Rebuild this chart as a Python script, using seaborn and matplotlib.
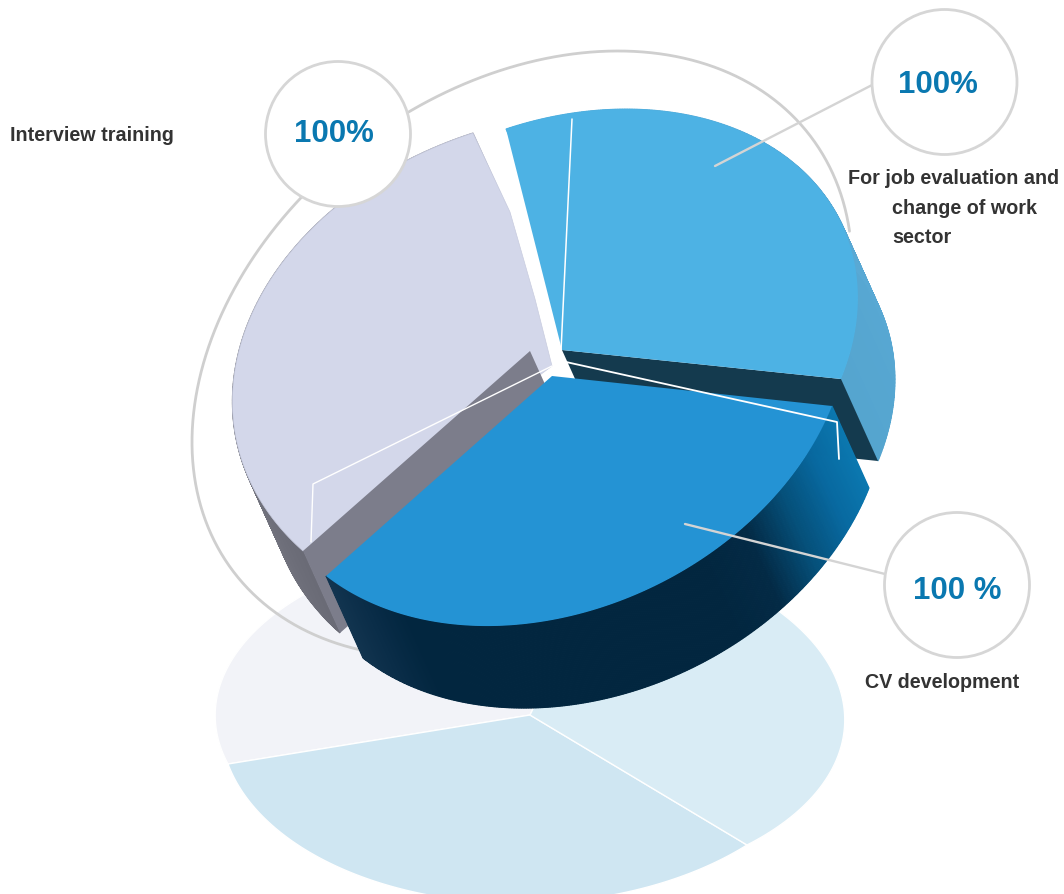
import numpy as np
import matplotlib
matplotlib.use("Agg")
import matplotlib.pyplot as plt
from matplotlib.patches import Circle, Polygon
import seaborn as sns

# Chart content
categories = ["Interview training", "For job evaluation and", "CV development"]
percentages = [100, 100, 100]
badge_texts = ["100%", "100%", "100 %"]

# Wedge geometry on the page: apex, the two projected radii, and arc fullness
lav_apex, lav_r1, lav_r2, lav_full = (552, 367), (-79, -233), (-249, 185), 0.925
sky_apex, sky_r1, sky_r2, sky_full = (562, 351), (279, 29), (-56, -221), 1.005
deep_apex, deep_r1, deep_r2, deep_full = (552, 377), (280, 30), (-226, 200), 1.0
depth = (37, 82)

shadow_apex = (530, 716)
shadow_a, shadow_b, shadow_c = (-302, 49), (217, 130), (82, -168)

# Colours
lav_face, sky_face, deep_face = "#d3d7ea", "#4db2e4", "#2493d4"
shadow_cols = ["#f2f3f8", "#cfe6f2", "#d9ecf5"]
ring_col, callout_col, badge_col, label_col = "#cfcfcf", "#d4d4d4", "#0a78b0", "#333333"

sns.set_theme(style="white")
plt.rcParams["font.family"] = ["Liberation Sans", "DejaVu Sans"]

fig, ax = plt.subplots(figsize=(10.64, 8.95), dpi=100)
fig.subplots_adjust(0, 0, 1, 1)
ax.set_xlim(0, 1064)
ax.set_ylim(895, 0)
sns.despine(ax=ax, left=True, bottom=True)
ax.set_axis_off()

sweeps = 2 * np.pi * np.array(percentages) / sum(percentages)


def arc(apex, r1, r2, sweep, fullness=1.0, n=360):
    """Projected circular arc between two radii of a tilted disc."""
    t = np.linspace(0, sweep, n)
    k = 1 + (fullness - 1) * np.sin(np.pi * t / sweep)
    s = np.sin(sweep)
    pts = (np.outer(np.sin(sweep - t), r1) + np.outer(np.sin(t), r2)) / s
    return np.array(apex) + pts * k[:, None]


def extruded_wall(curve, colours, z):
    """Side wall of a slice, painted as thin shaded strips along its arc."""
    off = np.array(depth)
    for i in range(len(curve) - 1):
        quad = [curve[i], curve[i + 1], curve[i + 1] + off, curve[i] + off]
        ax.add_patch(Polygon(quad, closed=True, fc=colours[i], ec=colours[i], lw=0.8, zorder=z))


# Mirrored slices lying under the pie
shadow_edges = [(shadow_c, shadow_a), (shadow_a, shadow_b), (shadow_b, shadow_c)]
for (ra, rb), col, sw in zip(shadow_edges, shadow_cols, sweeps):
    pts = arc(shadow_apex, ra, rb, sw, 1.02)
    ax.add_patch(Polygon(np.vstack([shadow_apex, pts]), closed=True, fc=col, ec="white", lw=1.0, zorder=1))

# Thin ring sweeping round the back of the pie
ring_t = np.radians(np.linspace(7, 243, 300))
ring_x = 522 + 330 * np.cos(ring_t)
ring_y = 355 + 303 * np.cos(ring_t + np.radians(106.9))
ax.plot(ring_x, ring_y, color=ring_col, lw=2.0, zorder=2)

# Lavender slice
lav_arc = arc(lav_apex, lav_r1, lav_r2, sweeps[0], lav_full)
extruded_wall(lav_arc, sns.blend_palette(["#9a9ba8", "#84858f", "#6a6b76"], len(lav_arc)), 3)
lav_shoulder = np.array(lav_apex) + np.array([[-17, -67], [-42, -154]])
ax.add_patch(Polygon(np.vstack([[lav_apex], lav_shoulder, lav_arc]), closed=True,
                     fc=lav_face, ec="#c8ccdf", lw=0.5, zorder=4))
lav_notch = np.array((530, 352))
lav_tip = lav_arc[-1]
ax.add_patch(Polygon([lav_notch, lav_tip, lav_tip + depth, lav_notch + depth], closed=True,
                     fc="#7c7d8b", ec="none", zorder=5))

# Light blue slice
sky_arc = arc(sky_apex, sky_r1, sky_r2, sweeps[1], sky_full)
extruded_wall(sky_arc, sns.blend_palette(["#55a5cf", "#5aaad6", "#4fb0e0"], len(sky_arc)), 6)
sky_corner = np.array(sky_apex) + sky_r1
ax.add_patch(Polygon([sky_apex, sky_corner, sky_corner + depth, np.array(sky_apex) + depth],
                     closed=True, fc="#143a4e", ec="none", zorder=7))
ax.add_patch(Polygon(np.vstack([sky_apex, sky_arc]), closed=True, fc=sky_face, ec="none", zorder=8))

# Deep blue slice in front
deep_arc = arc(deep_apex, deep_r1, deep_r2, sweeps[2], deep_full)
deep_stops = ["#0b78b0", "#0869a0", "#05507a", "#032a45"] + ["#02263f"] * 7 + ["#0a2d48", "#12344f"]
extruded_wall(deep_arc, sns.blend_palette(deep_stops, len(deep_arc)), 9)
ax.add_patch(Polygon(np.vstack([deep_apex, deep_arc]), closed=True, fc=deep_face, ec="none", zorder=10))

# Fine white leader lines across the faces
ax.plot([572, 561], [120, 352], color="white", lw=1.1, zorder=11)
ax.plot([566, 837, 839], [363, 423, 460], color="white", lw=1.3, zorder=11)
ax.plot([552, 313, 311], [367, 485, 543], color="white", lw=1.0, zorder=11)

# Callouts joining slices to their badges
ax.plot([715, 874], [167, 85], color=callout_col, lw=1.7, zorder=11)
ax.plot([685, 885], [525, 575], color=callout_col, lw=1.7, zorder=11)

# Percentage badges
badge_pos = [(338, 135), (944.5, 83), (957, 586)]
badge_txt_pos = [(334, 134), (938, 85), (957, 591)]
for (cx, cy), (tx, ty), txt in zip(badge_pos, badge_txt_pos, badge_texts):
    ax.add_patch(Circle((cx, cy), 72.5, fc="white", ec="#d6d6d6", lw=2.0, zorder=12))
    ax.text(tx, ty, txt, color=badge_col, fontsize=22.5, fontweight="bold",
            ha="center", va="center", zorder=13)

# Category labels
label_size = 14.2
ax.text(10, 135, categories[0], color=label_col, fontsize=label_size, fontweight="bold", va="center", zorder=13)
ax.text(848, 178, categories[1], color=label_col, fontsize=label_size, fontweight="bold", va="center", zorder=13)
ax.text(892, 208, "change of work", color=label_col, fontsize=label_size, fontweight="bold", va="center", zorder=13)
ax.text(892, 237, "sector", color=label_col, fontsize=label_size, fontweight="bold", va="center", zorder=13)
ax.text(865, 682, categories[2], color=label_col, fontsize=label_size, fontweight="bold", va="center", zorder=13)

fig.savefig("out.png", dpi=100, facecolor="white")
